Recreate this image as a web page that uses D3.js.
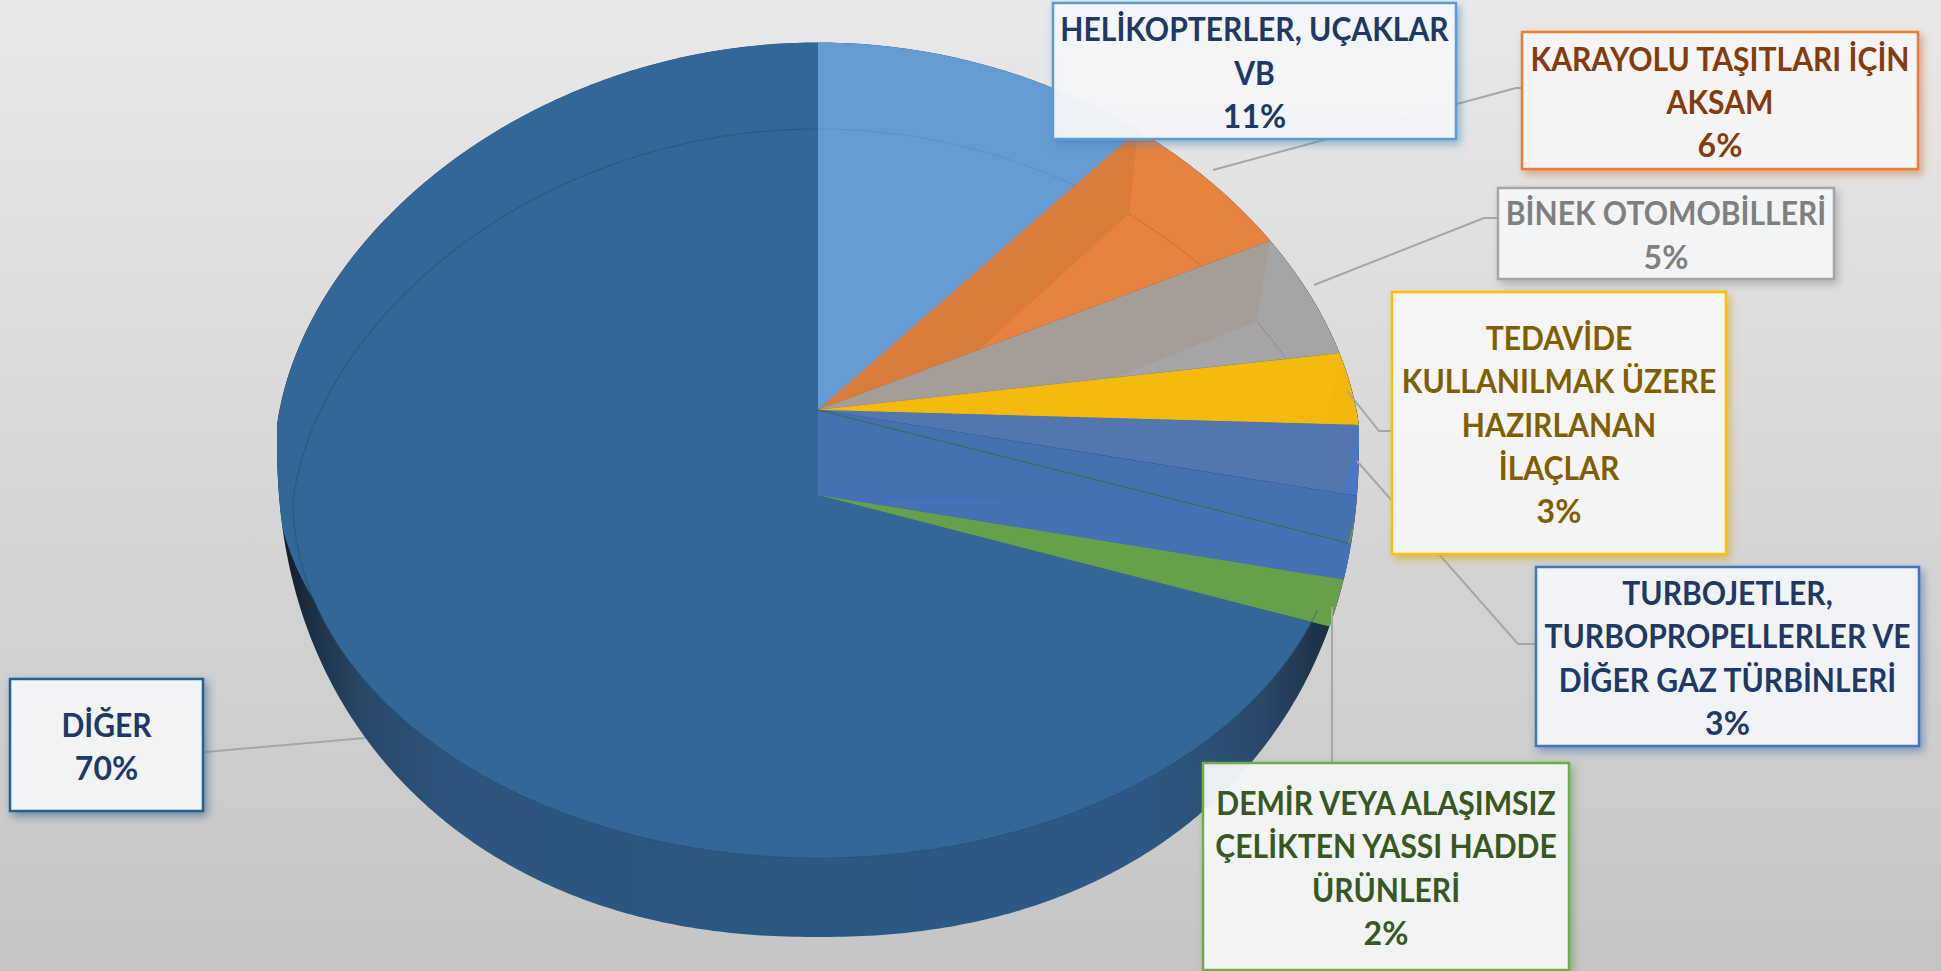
<!DOCTYPE html>
<html>
<head>
<meta charset="utf-8">
<script src="https://cdn.jsdelivr.net/npm/d3@7"></script>
<style>
  html, body { margin: 0; padding: 0; overflow: hidden; }
  svg { display: block; }
</style>
</head>
<body>
<svg id="pie_svg" width="1941" height="971"></svg>
<script>
// values, clockwise from 12 o'clock
const categories = [
  ["HELİKOPTERLER, UÇAKLAR", "VB"],
  ["KARAYOLU TAŞITLARI İÇİN", "AKSAM"],
  ["BİNEK OTOMOBİLLERİ"],
  ["TEDAVİDE", "KULLANILMAK ÜZERE", "HAZIRLANAN", "İLAÇLAR"],
  ["TURBOJETLER,", "TURBOPROPELLERLER VE", "DİĞER GAZ TÜRBİNLERİ"],
  ["DEMİR VEYA ALAŞIMSIZ", "ÇELİKTEN YASSI HADDE", "ÜRÜNLERİ"],
  ["DİĞER"]
];
const percentValues = [11, 6, 5, 3, 3, 2, 70];

const topColors  = ["#659bd2", "#e7833f", "#a5a5a5", "#f2b80c", "#4a76c3", "#4a72a8", "#336797"];
const wallColors = [null, "#d97b3a", "#a59d97", "#f4ba0e", "#5276ae", "#4472b0", null];
const edgeColors = ["#5a8fc4", "#b8743f", "#8f8a84", "#d9ab20", "#2f5597", "#3f6b3f", "#2f608f"];
const borderColors = ["#5b9bd5", "#ed7d31", "#a5a5a5", "#ffc000", "#4472c4", "#70ad47", "#255e91"];
const textColors = ["#1f3864", "#843c0c", "#7f7f7f", "#7f6000", "#1f3864", "#385723", "#1f3864"];

const svg = d3.select('#pie_svg');
const defs = svg.append('defs');

// background
const bg = defs.append('linearGradient').attr('id', 'bg').attr('x1', 0).attr('y1', 0).attr('x2', 0).attr('y2', 1);
bg.append('stop').attr('offset', '0%').attr('stop-color', '#e9e9e9');
bg.append('stop').attr('offset', '100%').attr('stop-color', '#c5c5c5');
svg.append('rect').attr('width', 1941).attr('height', 971).attr('fill', 'url(#bg)');

// the two apexes of the tilted pie
const apexTop = [818, 410];
const apexBottom = [818, 495];

// point on the upper rim, t is the d3.pie angle
function rimTop(t) {
  return [apexTop[0] + 541 * Math.sin(t) / (1 + 0.1 * Math.cos(t)),
          apexTop[1] + 15 - 382.5 * Math.cos(t)];
}
// rim seen through the front, gets clipped by the outline
function rimLower(t) {
  return [apexBottom[0] + 541 * Math.sin(t) / (1 + 0.1 * Math.cos(t)),
          apexBottom[1] + 11 - 406 * Math.cos(t)];
}
// inner ellipse (the thin line on the face)
function rimInner(t) {
  const c = Math.cos(t);
  return [apexBottom[0] + 525 * Math.sin(t) / (1 + 0.1 * Math.max(0, c)),
          apexBottom[1] + 5 - (c > 0 ? 371 : 358) * c];
}
// lower half of the silhouette, slightly squarer than an ellipse
function rimOutline(t) {
  const p = 2 / 2.2;
  const s = Math.sin(t), c = Math.cos(t);
  return [818 + 541 * Math.sign(s) * Math.pow(Math.abs(s), p),
          439.5 - 497.5 * Math.sign(c) * Math.pow(Math.abs(c), p)];
}

function arcPoints(fn, t0, t1) {
  const n = Math.max(2, Math.ceil(Math.abs(t1 - t0) / 0.01));
  return d3.range(n + 1).map(i => fn(t0 + (t1 - t0) * i / n));
}
const line = d3.line();
const closed = pts => line(pts) + 'Z';
const full = 2 * Math.PI;

const slices = d3.pie().sort(null).startAngle(0).endAngle(full)(percentValues);

// outline and the dark outer wall
const outlinePts = arcPoints(rimTop, -Math.PI / 2, Math.PI / 2).concat(arcPoints(rimOutline, Math.PI / 2, 1.5 * Math.PI));
const wallGrad = defs.append('linearGradient').attr('id', 'wallGrad')
  .attr('gradientUnits', 'userSpaceOnUse').attr('x1', 277).attr('x2', 1359).attr('y1', 0).attr('y2', 0);
[[0, '#0d1620'], [.03, '#1c2f42'], [.08, '#28486a'], [.17, '#2c5680'], [.8, '#2d5a85'], [.91, '#29486a'], [.97, '#1d3044'], [1, '#0d1620']]
  .forEach(s => wallGrad.append('stop').attr('offset', s[0]).attr('stop-color', s[1]));
defs.append('clipPath').attr('id', 'outlineClip').append('path').attr('d', closed(outlinePts));
defs.append('clipPath').attr('id', 'innerClip').append('path').attr('d', closed(arcPoints(rimInner, 0, full)));

svg.append('path').attr('d', closed(outlinePts)).attr('fill', 'url(#wallGrad)');

const pieG = svg.append('g').attr('clip-path', 'url(#outlineClip)');

// dark face, drawn from the lower apex and held inside the inner ellipse
const dark = slices[6];
pieG.append('path')
  .attr('clip-path', 'url(#innerClip)')
  .attr('d', closed([apexBottom].concat(arcPoints(rimLower, dark.startAngle, dark.endAngle))))
  .attr('fill', topColors[6]);
pieG.append('path')
  .attr('d', closed([apexTop].concat(arcPoints(rimTop, 1.33 * Math.PI, full))))
  .attr('fill', topColors[6]);

// lower blue and green wedges, blue one also fills the gap between the apexes
const lowerBlue = slices[4], lowerGreen = slices[5];
pieG.append('path')
  .attr('d', closed([apexTop, rimTop(lowerGreen.endAngle), rimLower(lowerBlue.endAngle), apexBottom]))
  .attr('fill', '#4472b0');
pieG.append('path')
  .attr('d', closed([apexBottom].concat(arcPoints(rimLower, lowerBlue.startAngle, lowerBlue.endAngle))))
  .attr('fill', '#4571b5')
  .attr('stroke', '#3f6dbb');
pieG.append('path')
  .attr('d', closed([apexBottom].concat(arcPoints(rimLower, lowerGreen.startAngle, lowerGreen.endAngle))))
  .attr('fill', '#65a04b');

// upper wedges with the radial wall of each slice
slices.slice(0, 6).forEach((d, i) => {
  const wedge = closed([apexTop].concat(arcPoints(rimTop, d.startAngle, d.endAngle)));
  defs.append('clipPath').attr('id', 'wedge' + i).append('path').attr('d', wedge);
  pieG.append('path').attr('d', wedge).attr('fill', topColors[i]);
  if (wallColors[i]) {
    pieG.append('path')
      .attr('clip-path', 'url(#wedge' + i + ')')
      .attr('d', closed([apexTop, rimTop(d.startAngle), rimInner(d.startAngle), apexBottom]))
      .attr('fill', wallColors[i]);
  }
  // thin piece of the inner ellipse, only inside this slice
  if (i < 3) {
    pieG.append('path')
      .attr('clip-path', 'url(#wedge' + i + ')')
      .attr('d', line(arcPoints(rimInner, d.startAngle, d.endAngle)))
      .attr('fill', 'none')
      .attr('stroke', edgeColors[i])
      .attr('stroke-width', 1);
  }
  pieG.append('path')
    .attr('d', line([apexTop, rimTop(d.endAngle)]))
    .attr('stroke', edgeColors[i])
    .attr('stroke-width', 1)
    .attr('fill', 'none');
});

// green rim of the small slice
pieG.append('path')
  .attr('d', line(arcPoints(rimTop, slices[5].startAngle, slices[5].endAngle)))
  .attr('fill', 'none')
  .attr('stroke', '#5d9a4e')
  .attr('stroke-width', 2);

// inner ellipse along the dark slice
pieG.append('path')
  .attr('d', line(arcPoints(rimInner, dark.startAngle, dark.endAngle)))
  .attr('fill', 'none')
  .attr('stroke', '#1e4a72')
  .attr('stroke-opacity', 0.45)
  .attr('stroke-width', 1.2);

// leader lines
const leaders = [
  [[1213, 170], [1516, 88], [1521, 88]],
  [[1314, 285], [1484, 218], [1497, 218]],
  [[1347, 391], [1379, 431], [1391, 431]],
  [[1357, 461], [1518, 644], [1535, 644]],
  [[1332, 607], [1332, 763]],
  [[205, 752], [365, 738]]
];
svg.append('g').selectAll('path').data(leaders).enter().append('path')
  .attr('d', d => line(d))
  .attr('fill', 'none')
  .attr('stroke', '#a6a6a6')
  .attr('stroke-width', 2);

// label boxes, each with a shadow in its own colour
borderColors.forEach((c, i) => {
  defs.append('filter').attr('id', 'boxShadow' + i)
    .attr('x', '-10%').attr('y', '-10%').attr('width', '125%').attr('height', '125%')
    .append('feDropShadow')
    .attr('dx', 3).attr('dy', 4).attr('stdDeviation', 4)
    .attr('flood-color', d3.color(c).darker(0.6))
    .attr('flood-opacity', 0.55);
});

const boxes = [
  { x: 1053, y: 3, w: 403, h: 136 },
  { x: 1522, y: 32, w: 396, h: 137 },
  { x: 1498, y: 188, w: 336, h: 91 },
  { x: 1392, y: 292, w: 334, h: 262 },
  { x: 1536, y: 567, w: 383, h: 179 },
  { x: 1203, y: 763, w: 366, h: 207 },
  { x: 10, y: 679, w: 193, h: 132 }
];
const lineStep = 43.3;
const nameSqueeze = 0.94; // Lato runs wider than the font in the picture

const labelG = svg.selectAll('.label')
  .data(slices)
  .enter()
  .append('g')
  .attr('class', 'label');

labelG.append('rect')
  .attr('x', (d, i) => boxes[i].x)
  .attr('y', (d, i) => boxes[i].y)
  .attr('width', (d, i) => boxes[i].w)
  .attr('height', (d, i) => boxes[i].h)
  .attr('fill', '#f7f9fb')
  .attr('fill-opacity', 0.92)
  .attr('stroke', (d, i) => borderColors[i])
  .attr('stroke-width', 2.5)
  .attr('filter', (d, i) => 'url(#boxShadow' + i + ')');

labelG.each(function (d, i) {
  const rows = categories[i].concat([d.value + '%']);
  const cx = boxes[i].x + boxes[i].w / 2;
  const cy = boxes[i].y + boxes[i].h / 2;
  d3.select(this).selectAll('text')
    .data(rows)
    .enter()
    .append('text')
    .attr('transform', (r, j) => {
      const y = cy + (j - (rows.length - 1) / 2) * lineStep + 13.5;
      const sx = j < rows.length - 1 ? nameSqueeze : 1;
      return 'translate(' + cx + ',' + y + ') scale(' + sx + ',1)';
    })
    .attr('text-anchor', 'middle')
    .style('font-family', 'Lato, "Open Sans", sans-serif')
    .style('font-weight', 'bold')
    .style('font-size', '32px')
    .style('fill', textColors[i])
    .text(r => r);
});
</script>
</body>
</html>
